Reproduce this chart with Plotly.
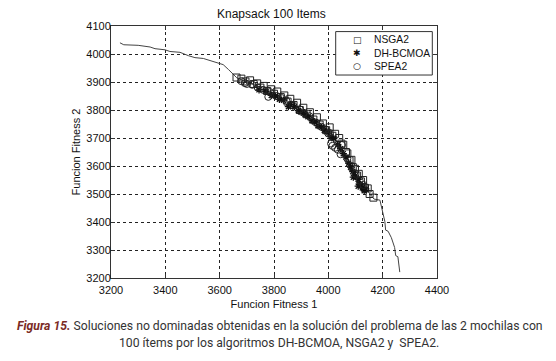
import plotly.graph_objects as go

# True front line
front_x = [3233, 3247, 3300, 3318, 3344, 3362, 3399, 3417, 3454, 3485, 3509, 3540, 3564, 3589,
           3613, 3633, 3663, 3700, 3750, 3800, 3850, 3900, 3950, 4000, 4030, 4060, 4080, 4100,
           4125, 4150, 4168, 4190, 4196, 4202, 4208, 4211, 4220, 4232, 4244, 4248, 4256, 4263]
front_y = [4040, 4033, 4031, 4029, 4025, 4019, 4015, 4009, 4006, 3994, 3987, 3984, 3976, 3969,
           3962, 3944, 3915, 3900, 3882, 3860, 3832, 3800, 3765, 3725, 3690, 3645, 3605, 3570,
           3535, 3505, 3482, 3478, 3449, 3431, 3402, 3371, 3367, 3344, 3309, 3280, 3276, 3221]

nsga2_x = [3662, 3680, 3695, 3712, 3725, 3738, 3750, 3762, 3775, 3790, 3800, 3812, 3825, 3838,
           3850, 3860, 3872, 3885, 3895, 3908, 3920, 3932, 3945, 3958, 3968, 3980, 3992, 4005,
           4015, 4025, 4040, 4048, 4055, 4065, 4070, 4078, 4085, 4090, 4098, 4105, 4112, 4120,
           4128, 4135, 4145, 4152, 4166]
nsga2_y = [3916, 3912, 3902, 3906, 3893, 3895, 3880, 3886, 3868, 3874, 3858, 3866, 3846, 3852,
           3830, 3840, 3818, 3826, 3800, 3808, 3785, 3792, 3766, 3774, 3748, 3752, 3728, 3738,
           3708, 3715, 3700, 3680, 3676, 3650, 3645, 3620, 3622, 3596, 3590, 3566, 3572, 3545,
           3550, 3522, 3520, 3500, 3487]

dh_x = [3745, 3770, 3790, 3805, 3820, 3835, 3853, 3860, 3875, 3890, 3900, 3915, 3925, 3940,
        3950, 3962, 3975, 3985, 3995, 4010, 4020, 4035, 4045, 4055, 4065, 4075, 4082, 4090,
        4092, 4100, 4110, 4115, 4125, 4132, 4138, 4110]
dh_y = [3872, 3866, 3852, 3850, 3838, 3835, 3812, 3818, 3812, 3798, 3792, 3784, 3776, 3762,
        3758, 3744, 3738, 3728, 3722, 3705, 3698, 3676, 3662, 3644, 3632, 3610, 3596, 3580,
        3560, 3565, 3552, 3535, 3522, 3512, 3518, 3528]

spea2_x = [3680, 3693, 3700, 3720, 3740, 3760, 3779, 3785, 3810, 3830, 3845, 3870, 3895, 3910,
           3930, 3955, 3975, 3990, 4000, 4006, 4010, 4015, 4025, 4035, 4045, 4050, 4070, 4085,
           4100, 4115, 4130]
spea2_y = [3903, 3896, 3893, 3890, 3880, 3872, 3847, 3864, 3850, 3842, 3834, 3816, 3802, 3790,
           3778, 3755, 3740, 3730, 3716, 3718, 3680, 3672, 3665, 3658, 3642, 3675, 3626, 3600,
           3572, 3548, 3532]

x_ticks = [3200, 3400, 3600, 3800, 4000, 4200, 4400]
y_ticks = [3200, 3300, 3400, 3500, 3600, 3700, 3800, 3900, 4000, 4100]

legend_names = ["NSGA2", "DH-BCMOA", "SPEA2"]
legend_glyphs = ["□", "✱", "○"]

FONT = "Liberation Sans, Arial"
OFF = 8  # page body margin in the browser
W, H = 556 - OFF, 361 - OFF
ML, MT = 111 - OFF, 21 - OFF
MR, MB = W - (437 - OFF), H - (278 - OFF)
PW, PH = W - ML - MR, H - MT - MB


def px_x(px):
    return (px - OFF - ML) / PW


def px_y(py):
    return (H - MB - (py - OFF)) / PH


fig = go.Figure()
fig.add_trace(go.Scatter(x=front_x, y=front_y, mode="lines", line=dict(color="#444", width=1),
                         showlegend=False, hoverinfo="skip"))
fig.add_trace(go.Scatter(x=nsga2_x, y=nsga2_y, mode="markers", name="NSGA2",
                         marker=dict(symbol="square-open", size=7, color="#222",
                                     line=dict(width=1, color="#222"))))
fig.add_trace(go.Scatter(x=dh_x, y=dh_y, mode="markers", name="DH-BCMOA",
                         marker=dict(symbol="asterisk-open", size=6, color="#111",
                                     line=dict(width=1.3, color="#111"))))
fig.add_trace(go.Scatter(x=spea2_x, y=spea2_y, mode="markers", name="SPEA2",
                         marker=dict(symbol="circle-open", size=7, color="#222",
                                     line=dict(width=1, color="#222"))))

axis_common = dict(showline=True, linecolor="#333", linewidth=1, mirror="ticks",
                   ticks="inside", ticklen=4, tickcolor="#333",
                   showgrid=True, gridcolor="#222", griddash="dot", gridwidth=1,
                   zeroline=False, tickfont=dict(family=FONT, size=11, color="#111"))

fig.update_xaxes(range=[3200, 4400], tickvals=x_ticks, ticktext=[str(v) for v in x_ticks],
                 ticklabelstandoff=2,
                 title=dict(text="Funcion Fitness 1", font=dict(family=FONT, size=11, color="#111"),
                            standoff=5), **axis_common)
fig.update_yaxes(range=[3200, 4100], tickvals=y_ticks, ticktext=[str(v) for v in y_ticks],
                 ticklabelstandoff=-3,
                 title=dict(text="Funcion Fitness 2", font=dict(family=FONT, size=11, color="#111"),
                            standoff=3), **axis_common)

annotations = [
    dict(text="Knapsack 100 Items", x=px_x(271), y=px_y(9), xref="paper", yref="paper",
         showarrow=False, xanchor="center", yanchor="middle",
         font=dict(family=FONT, size=12, color="#111")),
    dict(text="<b><i><span style='color:#7b2b25'>Figura 15.</span></i></b> Soluciones no dominadas obtenidas en la solución del problema de las 2 mochilas con",
         x=px_x(280), y=px_y(327), xref="paper", yref="paper", showarrow=False,
         xanchor="center", yanchor="middle", font=dict(family="Roboto", size=12.2, color="#333")),
    dict(text="100 ítems por los algoritmos DH-BCMOA, NSGA2 y  SPEA2.",
         x=px_x(279), y=px_y(344), xref="paper", yref="paper", showarrow=False,
         xanchor="center", yanchor="middle", font=dict(family="Roboto", size=12.2, color="#333")),
]
for name, glyph, ypix in zip(legend_names, legend_glyphs, [35, 49, 62]):
    annotations.append(dict(text=glyph, x=px_x(357), y=px_y(ypix), xref="paper", yref="paper",
                            showarrow=False, xanchor="center", yanchor="middle",
                            font=dict(family="DejaVu Sans", size=9, color="#111")))
    annotations.append(dict(text=name, x=px_x(372), y=px_y(ypix), xref="paper", yref="paper",
                            showarrow=False, xanchor="left", yanchor="middle",
                            font=dict(family=FONT, size=10.3, color="#111")))

fig.update_layout(
    width=W, height=H,
    margin=dict(l=ML, r=MR, t=MT, b=MB),
    paper_bgcolor="white", plot_bgcolor="white",
    showlegend=False,
    annotations=annotations,
    shapes=[dict(type="rect", xref="paper", yref="paper",
                 x0=px_x(335.7), x1=px_x(432.3), y0=px_y(71), y1=px_y(26.7),
                 line=dict(color="#333", width=1), fillcolor="white", layer="above")],
)

fig.write_html("out.html")
